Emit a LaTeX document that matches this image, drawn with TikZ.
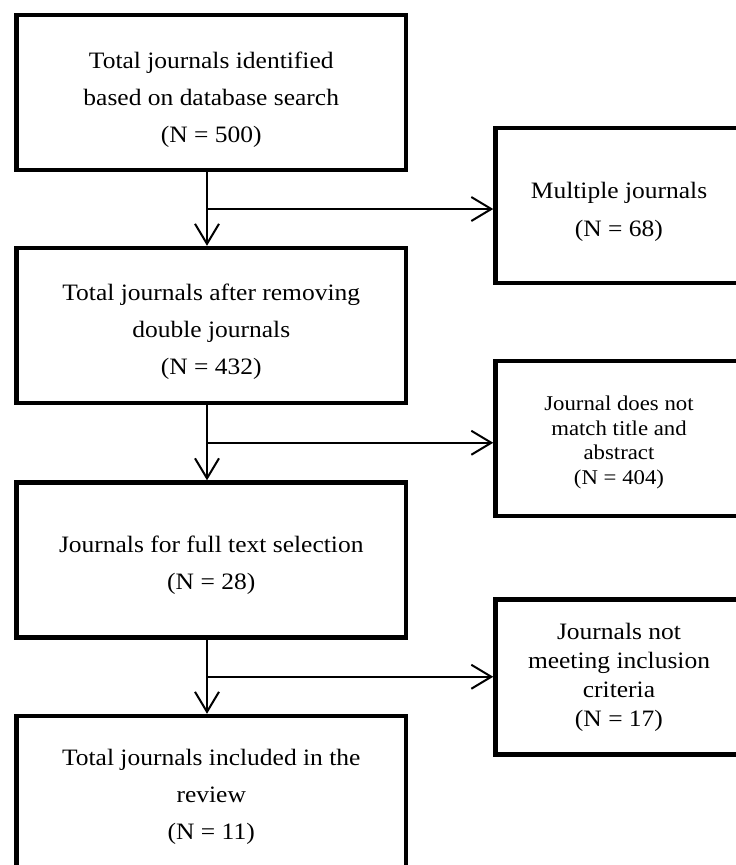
\documentclass[tikz,border=0pt]{standalone}
\usepackage{fontspec}
\setmainfont{Liberation Serif}[FakeStretch=1.085]
\usetikzlibrary{arrows.meta,calc}
\newcommand{\topgap}[1]{\rule{0pt}{#1pt}}

\begin{document}
\begin{tikzpicture}[x=1pt,y=-1pt,
		box/.style={draw, line width=4.5pt, inner sep=0pt, align=center, minimum height=155pt},
		lbox/.style={box, minimum width=389.5pt, font=\fontsize{23.5}{37}\selectfont},
		rbox/.style={box, minimum width=247pt},
		arr/.style={line width=2pt, -{Straight Barb[length=20pt, width=24pt, line width=2pt]}}]
		\useasboundingbox (0,0) rectangle (736,865);
		\clip (0,0) rectangle (736,865);
		% main column
		\node[lbox] (ident) at (211.25,92.5) {\topgap{31}Total journals identified\\based on database search\\(N = 500)};
		\node[lbox] (nodouble) at (211.25,325.5) {\topgap{28}Total journals after removing\\double journals\\(N = 432)};
		\node[lbox] (fulltext) at (211.25,560) {\topgap{27}Journals for full text selection\\(N = 28)};
		\node[lbox] (included) at (211.25,793.5) {\topgap{23}Total journals included in the\\review\\(N = 11)};
		% excluded
		\node[rbox, font=\fontsize{23.5}{38}\selectfont] (multi) at (619,205.5) {\topgap{29}Multiple journals\\(N = 68)};
		\node[rbox, font=\fontsize{21}{24.7}\selectfont] (nomatch) at (619,438.5) {\topgap{22.5}Journal does not\\match title and\\abstract\\(N = 404)};
		\node[rbox, font=\fontsize{23.5}{29}\selectfont] (nocrit) at (619,677) {Journals not\\meeting inclusion\\criteria\\(N = 17)};
		% branch points
		\coordinate (s1) at ($(ident.south)!0.5!(nodouble.north)+(-4.25,0)$);
		\coordinate (s2) at ($(nodouble.south)!0.5!(fulltext.north)+(-4.25,0)$);
		\coordinate (s3) at ($(fulltext.south)!0.5!(included.north)+(-4.25,0)$);
		\draw[arr] (ident.south -| s1) -- (nodouble.north -| s1);
		\draw[arr] (nodouble.south -| s2) -- (fulltext.north -| s2);
		\draw[arr] (fulltext.south -| s3) -- (included.north -| s3);
		\draw[arr] (s1) -- (s1 -| multi.west);
		\draw[arr] (s2) -- (s2 -| nomatch.west);
		\draw[arr] (s3) -- (s3 -| nocrit.west);
	\end{tikzpicture}
\end{document}
